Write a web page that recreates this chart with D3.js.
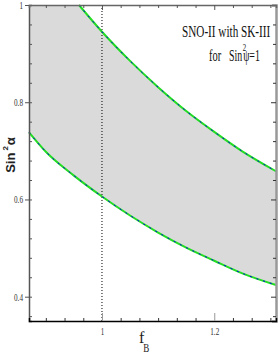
<!DOCTYPE html>
<html>
<head>
<meta charset="utf-8">
<script src="https://cdn.jsdelivr.net/npm/d3@7"></script>
<style>
  body { margin: 0; background: #fff; }
  svg { display: block; }
</style>
</head>
<body>
<div id="chart"></div>
<script>
// values
const xDomain = [0.87, 1.31];
const yDomain = [0.35, 1.0];

const upperF = [0.959, 1.0, 1.05, 1.10, 1.15, 1.20, 1.25, 1.31];
const upperSin2a = [1.0, 0.945, 0.885, 0.831, 0.782, 0.739, 0.699, 0.658];

const lowerF = [0.87, 0.90, 0.95, 1.0, 1.05, 1.10, 1.15, 1.20, 1.25, 1.31];
const lowerSin2a = [0.738, 0.698, 0.649, 0.606, 0.567, 0.532, 0.501, 0.474, 0.448, 0.424];

const yMajorTicks = [0.4, 0.6, 0.8, 1.0];
const yTickLabels = ["0.4", "0.6", "0.8", "1"];
const xMajorTicks = [1.0, 1.2];
const xTickLabels = ["1", "1.2"];

const width = 278;
const height = 354;

const x = d3.scaleLinear().domain(xDomain).range([29, 276]);
const y = d3.scaleLinear().domain(yDomain).range([321, 5]);

const yMinor = d3.range(0, 17).map(i => +(0.36 + i * 0.04).toFixed(2));
const xMinor = d3.range(0, 13).map(i => +(0.9 + i / 30).toFixed(4));

const svg = d3.select("#chart").append("svg")
    .attr("width", width)
    .attr("height", height);

const upper = upperF.map((f, i) => [f, upperSin2a[i]]);
const lower = lowerF.map((f, i) => [f, lowerSin2a[i]]);

const line = d3.line().x(d => x(d[0])).y(d => y(d[1])).curve(d3.curveMonotoneX);

// shaded band between the two curves, closed along the top of the frame
const upperPath = line(upper);
const lowerPath = line(lower.slice().reverse()).replace(/^M/, "L");
svg.append("path")
    .attr("d", "M" + x(xDomain[0]) + "," + y(yDomain[1]) + "L" + upperPath.slice(1) + lowerPath + "Z")
    .attr("fill", "#dadada")
    .attr("stroke", "none");

// dotted line at f_B = 1
svg.append("line")
    .attr("x1", x(1)).attr("x2", x(1))
    .attr("y1", y(yDomain[1])).attr("y2", y(yDomain[0]))
    .attr("stroke", "#000")
    .attr("stroke-width", 1)
    .attr("stroke-dasharray", "1,2");

// curves: green solid with blue dashes on top
[upper, lower].forEach(pts => {
    svg.append("path")
        .attr("d", line(pts))
        .attr("fill", "none")
        .attr("stroke", "#22dd22")
        .attr("stroke-width", 2);
    svg.append("path")
        .attr("d", line(pts))
        .attr("fill", "none")
        .attr("stroke", "#0000ee")
        .attr("stroke-width", 1)
        .attr("stroke-dasharray", "2,5");
});

const tickFont = "'Liberation Serif', 'Times New Roman', serif";

// left axis
const leftMinor = svg.append("g")
    .attr("transform", `translate(${x(xDomain[0])},0)`)
    .call(d3.axisLeft(y).tickValues(yMinor).tickSize(-3).tickFormat(""));
leftMinor.select(".domain").attr("stroke", "#555").attr("stroke-width", 1.5);
leftMinor.selectAll(".tick line").attr("stroke", "#555");

const leftMajor = svg.append("g")
    .attr("transform", `translate(${x(xDomain[0])},0)`)
    .call(d3.axisLeft(y).tickValues(yMajorTicks).tickSize(4).tickPadding(2)
        .tickFormat((d, i) => yTickLabels[i]));
leftMajor.select(".domain").remove();
leftMajor.selectAll(".tick line").attr("stroke", "#555");
leftMajor.selectAll(".tick text")
    .attr("font-family", tickFont)
    .attr("font-size", 11)
    .attr("fill", "#333")
    .attr("textLength", (d, i) => yTickLabels[i].length > 1 ? 9 : 3.5)
    .attr("lengthAdjust", "spacingAndGlyphs");

// right axis
const rightAxis = svg.append("g")
    .attr("transform", `translate(${x(xDomain[1])},0)`)
    .call(d3.axisRight(y).tickValues(yMinor).tickSize(-4).tickFormat(""));
rightAxis.select(".domain").attr("stroke", "#999").attr("stroke-width", 2.5);
rightAxis.selectAll(".tick line").attr("stroke", "#333")
    .attr("x2", d => yMajorTicks.includes(d) ? -5 : -3);

// top axis
const topAxis = svg.append("g")
    .attr("transform", `translate(0,${y(yDomain[1])})`)
    .call(d3.axisTop(x).tickValues(xMinor).tickSize(-3).tickFormat(""));
topAxis.select(".domain").attr("stroke", "#666").attr("stroke-width", 1.5);
topAxis.selectAll(".tick line").attr("stroke", "#555")
    .attr("y2", d => xMajorTicks.includes(d) ? 5 : 3);

// bottom axis
const bottomAxis = svg.append("g")
    .attr("transform", `translate(0,${y(yDomain[0])})`)
    .call(d3.axisBottom(x).tickValues(xMinor).tickSize(-3).tickFormat(""));
bottomAxis.select(".domain").attr("stroke", "#000").attr("stroke-width", 1.5);
bottomAxis.selectAll(".tick line")
    .attr("stroke", d => xMajorTicks.includes(d) ? "#999" : "#333")
    .attr("y2", d => xMajorTicks.includes(d) ? -8 : -3);

const bottomLabels = svg.append("g")
    .attr("transform", `translate(0,${y(yDomain[0])})`)
    .call(d3.axisBottom(x).tickValues(xMajorTicks).tickSize(0).tickPadding(6)
        .tickFormat((d, i) => xTickLabels[i]));
bottomLabels.select(".domain").remove();
bottomLabels.selectAll(".tick text")
    .attr("font-family", tickFont)
    .attr("font-size", 11)
    .attr("fill", "#333")
    .attr("textLength", (d, i) => xTickLabels[i].length > 1 ? 9 : 3.5)
    .attr("lengthAdjust", "spacingAndGlyphs");

// y axis title: Sin^2 alpha
const yTitle = svg.append("text")
    .attr("transform", "translate(15,155) rotate(-90)")
    .attr("text-anchor", "middle")
    .attr("font-family", "'Liberation Sans', Arial, sans-serif")
    .attr("font-weight", "bold")
    .attr("font-size", 13)
    .attr("fill", "#222");
yTitle.append("tspan").text("Sin");
yTitle.append("tspan").attr("font-size", 8).attr("dx", 2).attr("dy", -7).text("2");
yTitle.append("tspan").attr("font-size", 13).attr("dx", 1).attr("dy", 7).text("α");

// x axis title: f_B
const xTitle = svg.append("text")
    .attr("x", 139)
    .attr("y", 343)
    .attr("font-family", tickFont)
    .attr("font-size", 16)
    .attr("fill", "#222");
xTitle.append("tspan").text("f");
xTitle.append("tspan").attr("font-size", 12).attr("dx", -1).attr("dy", 9)
    .attr("textLength", 6).attr("lengthAdjust", "spacingAndGlyphs").text("B");

// annotation, squeezed horizontally like the original lettering
svg.append("text")
    .attr("transform", "translate(182,37) scale(0.70,1)")
    .attr("font-family", tickFont)
    .attr("font-size", 16)
    .attr("fill", "#111")
    .text("SNO-II with SK-III");

svg.append("text")
    .attr("transform", "translate(209,61) scale(0.65,1)")
    .attr("font-family", tickFont)
    .attr("font-size", 16)
    .attr("fill", "#111")
    .text("for");

const note2 = svg.append("text")
    .attr("transform", "translate(229,61) scale(0.62,1)")
    .attr("font-family", tickFont)
    .attr("font-size", 16)
    .attr("fill", "#111");
note2.append("tspan").text("Sin");
note2.append("tspan").attr("font-size", 11).attr("dx", 1).attr("dy", -10).text("2");
note2.append("tspan").attr("dx", -5).attr("dy", 10).text("ψ=1");
</script>
</body>
</html>
